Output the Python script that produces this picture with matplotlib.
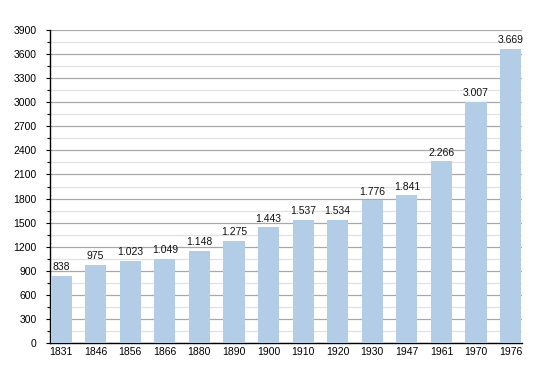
import matplotlib
matplotlib.use("Agg")
import matplotlib.pyplot as plt
from matplotlib.ticker import MultipleLocator

years = ["1831", "1846", "1856", "1866", "1880", "1890", "1900", "1910",
         "1920", "1930", "1947", "1961", "1970", "1976"]
population = [838, 975, 1023, 1049, 1148, 1275, 1443, 1537, 1534, 1776,
              1841, 2266, 3007, 3669]

plt.rcParams['font.family'] = ['Liberation Sans', 'DejaVu Sans']

fig = plt.figure(figsize=(5.5, 3.73), dpi=100)
ax = fig.add_axes([50/550, 30/373, 472/550, 313/373])

x = list(range(len(years)))
bars = ax.bar(x, population, width=0.61, color='#b3cde6', zorder=3)

for xi, v in zip(x, population):
    label = f"{v:,}".replace(",", ".")
    ax.text(xi, v + 45, label, ha='center', va='bottom', fontsize=7.5,
            color='#111111', zorder=4)

ax.set_xlim(-0.32, 13.33)
ax.set_ylim(0, 3900)
ax.yaxis.set_major_locator(MultipleLocator(300))
ax.yaxis.set_minor_locator(MultipleLocator(150))
ax.set_xticks(x)
ax.set_xticklabels(years)

ax.grid(axis='y', which='major', color='#a8a8a8', linewidth=0.9, zorder=0)
ax.grid(axis='y', which='minor', color='#e2e2e2', linewidth=0.9, zorder=0)
ax.grid(axis='x', visible=False)

for s in ['top', 'right']:
    ax.spines[s].set_visible(False)
ax.spines['left'].set_linewidth(1.0)
ax.spines['bottom'].set_linewidth(1.0)

ax.tick_params(axis='y', which='major', length=3, width=0.8, labelsize=7.5, pad=6.5)
ax.tick_params(axis='y', which='minor', length=2.5, width=0.8)
ax.tick_params(axis='x', length=0, labelsize=7.5, pad=3)

fig.savefig("out.png", dpi=100, facecolor='white')
